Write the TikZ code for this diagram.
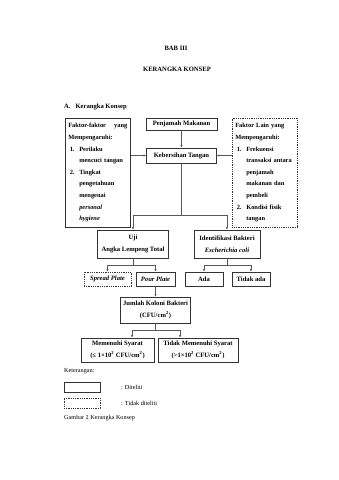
\documentclass[tikz,border=0pt]{standalone}
\usepackage{fontspec}
\setmainfont{Liberation Serif}
\usetikzlibrary{arrows.meta,positioning}
\hyphenpenalty=10000

\begin{document}
\begin{tikzpicture}[
  x=1pt,y=-1pt,
  every node/.style={font=\fontsize{6.6}{11.6}\selectfont\bfseries,align=center,inner sep=0pt},
  kotak/.style={draw=black!80,line width=0.55pt},
  putus/.style={kotak,dash pattern=on 1pt off 0.8pt},
  samping/.style={font=\fontsize{6.4}{11.6}\selectfont\bfseries,
    text width=59pt,align=left,inner xsep=3pt,minimum height=109pt,anchor=north west},
  garis/.style={draw=black!65,line width=0.5pt},
  panah/.style={garis,-{Latex[length=2.6pt,width=2.2pt]}},
  ket/.style={font=\fontsize{6.2}{8}\selectfont,anchor=west}
]
\useasboundingbox (0,0) rectangle (339,480);

\node (bab) at (176,48) {BAB III};
\node (judul) at (177,69) {KERANGKA KONSEP};
\node[anchor=west] (subjudul) at (64,107) {A.\hspace{5pt}Kerangka Konsep};

\node[kotak,samping] (faktor) at (65,118) {Faktor-faktor\hfill yang\\
  Mempengaruhi:\\
  \hspace*{1.5pt}\makebox[9.5pt][l]{1.}Perilaku\\
  \hspace*{11pt}mencuci tangan\\
  \hspace*{1.5pt}\makebox[9.5pt][l]{2.}Tingkat\\
  \hspace*{11pt}pengetahuan\\
  \hspace*{11pt}mengenai\\
  \hspace*{11pt}\textit{personal}\\
  \hspace*{11pt}\textit{hygiene}};
\node[putus,samping] (lain) at (232,118) {Faktor Lain yang\\
  Mempengaruhi:\\
  \hspace*{1.5pt}\makebox[9.5pt][l]{1.}Frekuensi\\
  \hspace*{11pt}\mbox{transaksi antara}\\
  \hspace*{11pt}penjamah\\
  \hspace*{11pt}makanan dan\\
  \hspace*{11pt}pembeli\\
  \hspace*{1.5pt}\makebox[9.5pt][l]{2.}Kondisi fisik\\
  \hspace*{11pt}tangan};

\node[kotak,minimum width=71pt,minimum height=12pt] (penjamah) at (181.5,124) {Penjamah Makanan};
\node[kotak,minimum width=70pt,minimum height=15pt] (bersih) at (181.5,155.5) {Kebersihan Tangan};
\node[kotak,minimum width=71pt,minimum height=28pt] (uji) at (133,244) {Uji\\Angka Lempeng Total};
\node[kotak,minimum width=66pt,minimum height=28pt] (identifikasi) at (227,244) {Identifikasi Bakteri\\\textit{Escherichia coli}};
\node[putus,minimum width=47pt,minimum height=14pt] (spread) at (107.5,279) {\textit{Spread Plate}};
\node[kotak,minimum width=39pt,minimum height=14pt] (pour) at (155.5,279) {\textit{Pour Plate}};
\node[kotak,minimum width=38pt,minimum height=14pt] (ada) at (204,279) {Ada};
\node[kotak,minimum width=38pt,minimum height=14pt] (tidakada) at (251,279) {Tidak ada};
\node[kotak,minimum width=70pt,minimum height=26pt] (jumlah) at (155.5,310) {Jumlah Koloni Bakteri\\(CFU/cm\textsuperscript{2})};
\node[kotak,minimum width=73pt,minimum height=24pt] (memenuhi) at (117.5,350) {Memenuhi Syarat\\(≤ 1×10\textsuperscript{2} CFU/cm\textsuperscript{2})};
\node[kotak,minimum width=80pt,minimum height=24pt] (tidakmemenuhi) at (198,350) {Tidak Memenuhi Syarat\\(>1×10\textsuperscript{2} CFU/cm\textsuperscript{2})};

\coordinate (cabang1) at (181.5,215);
\coordinate (cabang2) at (133,265);
\coordinate (cabang3) at (227,265);
\coordinate (cabang4) at (155.5,330);
\coordinate (kiri4) at (132,330);
\coordinate (kanan4) at (180,330);

\draw[panah] (penjamah) -- (bersih);
\draw[panah] (faktor.east |- bersih.west) -- (bersih.west);
\draw[panah] (lain.west |- bersih.east) -- (bersih.east);
\draw[garis] (bersih) -- (cabang1);
\draw[panah] (cabang1) -| (uji);
\draw[panah] (cabang1) -| (identifikasi);
\draw[garis] (uji) -- (cabang2);
\draw[panah] (cabang2) -| (spread);
\draw[panah] (cabang2) -| (pour);
\draw[garis] (identifikasi) -- (cabang3);
\draw[panah] (cabang3) -| (ada);
\draw[panah] (cabang3) -| (tidakada);
\draw[panah] (pour) -- (jumlah);
\draw[garis] (jumlah) -- (cabang4);
\draw[panah] (cabang4) -- (kiri4) -- (kiri4 |- memenuhi.north);
\draw[panah] (cabang4) -- (kanan4) -- (kanan4 |- tidakmemenuhi.north);

\node[ket] (keterangan) at (64,371) {Keterangan:};
\node[kotak,minimum width=36pt,minimum height=10pt] (lgdteliti) at (82,387) {};
\node[ket] (teliti) at (121,387) {: Diteliti};
\node[putus,minimum width=36pt,minimum height=10pt] (lgdtidak) at (82,403) {};
\node[ket] (tidakteliti) at (121,403) {: Tidak diteliti};
\node[ket] (gambar) at (64,418) {Gambar 2 Kerangka Konsep};
\end{tikzpicture}
\end{document}
